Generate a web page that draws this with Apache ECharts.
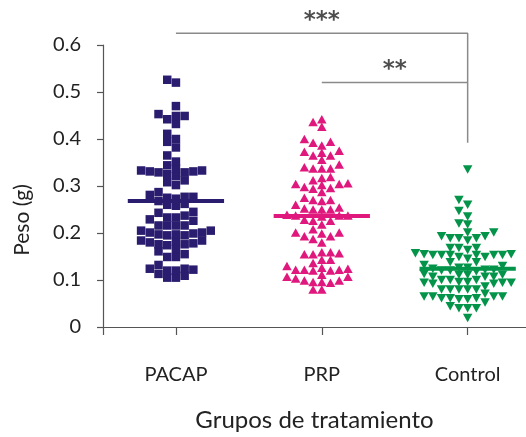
<!DOCTYPE html>
<html>
<head>
<meta charset="utf-8">
<script src="https://cdn.jsdelivr.net/npm/echarts@6/dist/echarts.min.js"></script>
<style>
html,body{margin:0;padding:0;background:#fff;}
#chart{width:526px;height:437px;}
</style>
</head>
<body>
<div id="chart"></div>
<script>
// ---- data ----
const categories = ['PACAP', 'PRP', 'Control'];
const yTicks = [0, 0.1, 0.2, 0.3, 0.4, 0.5, 0.6];

const pacap = [0.526, 0.52, 0.47, 0.449, 0.442, 0.449, 0.453, 0.432, 0.411, 0.40, 0.394, 0.382,
  0.365, 0.352, 0.344, 0.333, 0.329, 0.331, 0.325, 0.329, 0.331, 0.333, 0.337, 0.321, 0.308,
  0.302, 0.312, 0.287, 0.277, 0.268, 0.275, 0.277, 0.281, 0.273, 0.258, 0.26, 0.262, 0.245,
  0.237, 0.233, 0.233, 0.243, 0.229, 0.226, 0.216, 0.216, 0.216, 0.216, 0.205, 0.201, 0.197,
  0.201, 0.195, 0.195, 0.197, 0.199, 0.205, 0.184, 0.182, 0.18, 0.176, 0.174, 0.176, 0.178,
  0.184, 0.166, 0.155, 0.149, 0.149, 0.161, 0.132, 0.124, 0.122, 0.12, 0.113, 0.12, 0.124,
  0.109, 0.105, 0.105];

const prp = [0.442, 0.436, 0.426, 0.40, 0.392, 0.394, 0.386, 0.375, 0.373, 0.371, 0.365, 0.365,
  0.356, 0.337, 0.337, 0.337, 0.34, 0.346, 0.317, 0.312, 0.319, 0.304, 0.298, 0.296, 0.306,
  0.294, 0.302, 0.304, 0.287, 0.275, 0.27, 0.268, 0.27, 0.254, 0.26, 0.25, 0.25, 0.25, 0.252,
  0.237, 0.239, 0.237, 0.237, 0.235, 0.226, 0.226, 0.228, 0.218, 0.208, 0.201, 0.199, 0.201,
  0.193, 0.187, 0.193, 0.18, 0.157, 0.155, 0.155, 0.159, 0.159, 0.136, 0.143, 0.143, 0.126,
  0.122, 0.122, 0.12, 0.12, 0.122, 0.124, 0.13, 0.107, 0.103, 0.099, 0.094, 0.096, 0.096,
  0.099, 0.107, 0.111, 0.08, 0.08];

const control = [0.335, 0.27, 0.26, 0.247, 0.235, 0.22, 0.218, 0.201, 0.193, 0.189, 0.184,
  0.189, 0.189, 0.193, 0.201, 0.168, 0.168, 0.164, 0.168, 0.157, 0.155, 0.155, 0.153, 0.153,
  0.153, 0.145, 0.149, 0.149, 0.153, 0.153, 0.153, 0.138, 0.138, 0.13, 0.132, 0.126, 0.122,
  0.12, 0.126, 0.118, 0.12, 0.124, 0.122, 0.113, 0.111, 0.107, 0.107, 0.107, 0.111, 0.111,
  0.094, 0.092, 0.086, 0.1, 0.096, 0.096, 0.1, 0.1, 0.092, 0.094, 0.094, 0.08, 0.08, 0.08,
  0.08, 0.08, 0.065, 0.061, 0.065, 0.061, 0.061, 0.059, 0.059, 0.065, 0.065, 0.071, 0.052,
  0.044, 0.04, 0.04, 0.04, 0.019];

const groupMeans = [0.268, 0.236, 0.124];

// significance brackets (between groups), level = height of bracket, drop = lower end
const sigPairs = [
  { from: 'PACAP', to: 'Control', level: 0.625, drop: 0.392, text: '***' },
  { from: 'PRP', to: 'Control', level: 0.52, drop: 0.52, text: '**' }
];

// ---- layout helpers ----
const FONT = 'Lato';
const colors = ['#2a1c6e', '#e0187d', '#03944a'];
const symbols = ['rect', 'triangle', 'triangle'];
const rotates = [0, 0, 180];
const COL_W = 0.0597;    // swarm column width (x units)
const MIN_DY = 0.0145;   // min vertical gap in one column (y units)

function swarm(values, center) {
  const order = values.map((v, i) => i).sort((a, b) => values[a] - values[b]);
  const placed = [];
  const out = [];
  order.forEach(i => {
    const v = values[i];
    const tries = [0];
    for (let k = 1; k < 12; k++) { tries.push(-k, k); }
    for (const c of tries) {
      if (!placed.some(p => p.c === c && Math.abs(p.v - v) < MIN_DY)) {
        placed.push({ c, v });
        out.push([center + c * COL_W, v]);
        break;
      }
    }
  });
  return out;
}

const groups = [pacap, prp, control];
const series = [];
groups.forEach((vals, gi) => {
  series.push({
    type: 'scatter',
    data: swarm(vals, gi + 1),
    symbol: symbols[gi],
    symbolRotate: rotates[gi],
    symbolSize: gi === 0 ? 8.5 : [9.5, 8.5],
    itemStyle: { color: colors[gi], opacity: 1 },
    z: 2,
    silent: true
  });
  series.push({
    type: 'line',
    data: [[gi + 1 - 0.33, groupMeans[gi]], [gi + 1 + 0.33, groupMeans[gi]]],
    symbol: 'none',
    lineStyle: { color: colors[gi], width: 4 },
    z: 3,
    silent: true
  });
});

sigPairs.forEach(s => {
  const a = categories.indexOf(s.from) + 1;
  const b = categories.indexOf(s.to) + 1;
  series.push({
    type: 'line',
    data: [[a, s.level], [b, s.level], [b, s.drop]],
    symbol: 'none',
    clip: false,
    lineStyle: { color: '#8a8a8a', width: 1.5 },
    silent: true
  });
  series.push({
    type: 'scatter',
    data: [[(a + b) / 2, s.level]],
    symbolSize: 0,
    clip: false,
    label: {
      show: true, position: 'top', distance: 1,
      formatter: s.text, color: '#222', fontFamily: 'DejaVu Sans',
      fontSize: 23, fontWeight: 'bold'
    },
    silent: true
  });
});

const chart = echarts.init(document.getElementById('chart'), null, { renderer: 'canvas' });
chart.setOption({
  animation: false,
  backgroundColor: '#fff',
  grid: { left: 103, right: 0, top: 45, bottom: 106, containLabel: false },
  xAxis: {
    type: 'value', min: 0.5, max: 3.4,
    axisLine: { show: true, lineStyle: { color: '#555', width: 1.2 } },
    axisTick: { show: true, length: 8, customValues: [0.5, 1, 2, 3], lineStyle: { color: '#555', width: 1.2 } },
    axisLabel: {
      customValues: [1, 2, 3], margin: 38,
      formatter: v => categories[Math.round(v) - 1] || '',
      color: '#222', fontFamily: FONT, fontSize: 20
    },
    splitLine: { show: false },
    name: 'Grupos de tratamiento', nameLocation: 'middle', nameGap: 81,
    nameTextStyle: { color: '#222', fontFamily: FONT, fontSize: 24 }
  },
  yAxis: {
    type: 'value', min: yTicks[0], max: yTicks[yTicks.length - 1], interval: 0.1,
    axisLine: { show: true, lineStyle: { color: '#555', width: 1.2 } },
    axisTick: { show: true, length: 6, lineStyle: { color: '#555', width: 1.2 } },
    axisLabel: {
      margin: 22, color: '#222', fontFamily: FONT, fontSize: 20,
      formatter: v => (Math.round(v * 10) / 10).toString()
    },
    splitLine: { show: false },
    name: 'Peso (g)', nameLocation: 'middle', nameRotate: 90, nameGap: 70,
    nameTextStyle: { color: '#222', fontFamily: FONT, fontSize: 21, padding: [0, 68, 0, 0] }
  },
  series: series
});
</script>
</body>
</html>
